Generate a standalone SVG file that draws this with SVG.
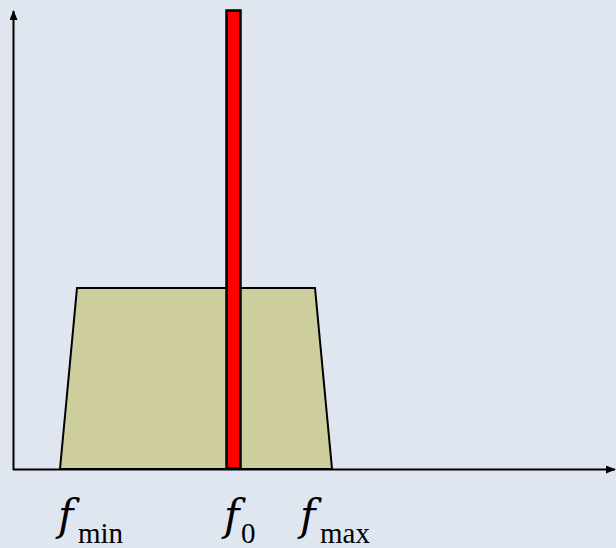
<svg xmlns="http://www.w3.org/2000/svg" width="616" height="548" viewBox="0 0 616 548">
<style>
.f{font-family:"DejaVu Serif","Liberation Serif",serif;font-style:italic;font-size:42px;fill:#000}
.s{font-family:"Liberation Serif",serif;font-size:29px;fill:#000}
</style>
<defs>
<marker id="ah" markerWidth="10" markerHeight="8" refX="9" refY="4" orient="auto" markerUnits="userSpaceOnUse">
<path d="M0,0 L10,4 L0,8 Z" fill="#000"/>
</marker>
</defs>
<rect width="616" height="548" fill="#DFE6F0"/>
<g id="band">
<polygon points="60,469 77,288 315,288 332,469" fill="#CDCD9D" stroke="#000" stroke-width="2"/>
</g>
<g id="carrier">
<rect x="226.5" y="10.5" width="14" height="458" fill="#FF0000" stroke="#000" stroke-width="2.5"/>
</g>
<g id="axes">
<line x1="13.5" y1="470" x2="13.5" y2="11" stroke="#000" stroke-width="2" marker-end="url(#ah)"/>
<line x1="13" y1="469.5" x2="615" y2="469.5" stroke="#000" stroke-width="2" marker-end="url(#ah)"/>
</g>
<g id="labels">
<text class="f" x="58" y="530">f</text><text class="s" x="78" y="543">min</text>
<text class="f" x="224" y="530">f</text><text class="s" x="241" y="543">0</text>
<text class="f" x="300" y="530">f</text><text class="s" x="320" y="543">max</text>
</g>
</svg>
